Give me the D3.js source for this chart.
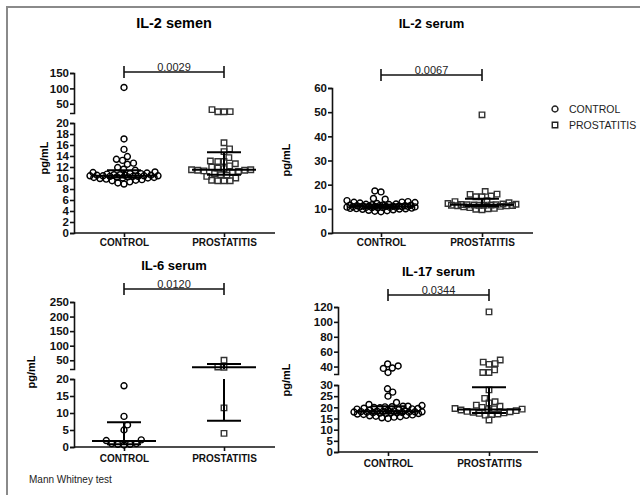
<!DOCTYPE html>
<html>
<head>
<meta charset="utf-8" />
<title>Cytokines</title>
<style>
    body { margin: 0; background: #fff; }
    svg text { font-family: Arial, "Liberation Sans", sans-serif; }
</style>
</head>
<body>
<div id="container"></div>
<script src="https://cdn.jsdelivr.net/npm/d3@7"></script>
<script>
    // categories / labels
    const groups = ['CONTROL', 'PROSTATITIS']
    const titles = ['IL-2 semen', 'IL-2 serum', 'IL-6 serum', 'IL-17 serum']
    const pValues = ['0.0029', '0.0067', '0.0120', '0.0344']

    // values (pg/mL)
    const il2SemenControl = [103, 17.1, 15.2, 13.9, 13.4, 13.2, 12.7, 12.5, 11.9, 11.6, 11.4, 11.1, 11.0, 10.9, 10.8,
        10.8, 10.7, 10.6, 10.6, 10.5, 10.5, 10.5, 10.4, 10.4, 10.4, 10.4, 10.3, 10.3, 10.3, 10.2, 10.2, 10.1, 10.1,
        10.0, 10.0, 9.9, 9.8, 9.7, 9.6, 9.5, 9.3, 9.1, 8.9]
    const il2SemenProstatitis = [31, 24, 24, 24.5, 16.4, 15.3, 14.8, 13.7, 13.1, 13.0, 13.0, 12.6, 12.2, 12.0, 11.8, 11.7,
        11.5, 11.5, 11.4, 11.4, 11.3, 11.2, 11.0, 10.8, 10.6, 10.5, 10.3, 10.0, 9.6, 9.5, 9.5, 9.5]
    const il2SerumControl = [17.4, 17.0, 14.3, 14.0, 13.4, 13.0, 12.8, 12.7, 12.6, 12.4, 12.2, 12.0, 11.9, 11.8, 11.7, 11.6,
        11.5, 11.5, 11.4, 11.3, 11.3, 11.2, 11.2, 11.1, 11.1, 11.0, 11.0, 11.0, 10.9, 10.9, 10.8, 10.8, 10.7, 10.7,
        10.6, 10.6, 10.5, 10.5, 10.4, 10.3, 10.2, 10.1, 10.0, 9.9, 9.8, 9.6, 9.4, 9.2, 9.0, 8.8]
    const il2SerumProstatitis = [48.9, 17.2, 16.1, 16.0, 15.3, 15.0, 15.0, 13.4, 13.0, 12.5, 12.2, 12.0, 11.9, 11.8, 11.7,
        11.7, 11.6, 11.6, 11.5, 11.5, 11.5, 11.4, 11.3, 11.2, 11.0, 10.8, 10.5, 10.2, 10.0, 9.8, 9.6]
    const il6SerumControl = [18.0, 9.0, 6.5, 5.0, 2.1, 1.9, 1.0, 0.8, 0.6, 0.8, 1.0]
    const il6SerumProstatitis = [50, 27, 26, 11.5, 4.0]
    const il17SerumControl = [43.5, 40.8, 38, 37.5, 32, 28.3, 26.8, 25, 22.2, 21.3, 20.8, 20.5, 20.5, 20.3, 20.2, 20.0,
        19.8, 19.6, 19.5, 19.3, 19.2, 19.0, 18.8, 18.7, 18.5, 18.4, 18.3, 18.2, 18.1, 18.0, 18.0, 17.9, 17.8, 17.8,
        17.7, 17.6, 17.5, 17.5, 17.4, 17.3, 17.2, 17.0, 16.8, 16.6, 16.4, 16.2, 16.0, 15.8, 15.6, 15.3, 15.0]
    const il17SerumProstatitis = [113.5, 48.8, 46, 44, 43, 35.5, 32, 32, 27.8, 24, 22.5, 22, 21, 20.5, 20, 19.5, 19.3,
        19.2, 19.0, 18.8, 18.5, 18.2, 18.0, 17.8, 17.5, 17.3, 17.0, 16.8, 16.5, 14.3]

    // [q1, median, q3] per group
    const il2SemenStats = [[10.1, 10.4, 11.4], [10.6, 11.5, 14.7]]
    const il2SerumStats = [[10.4, 11.0, 11.7], [11.2, 11.7, 14.2]]
    const il6SerumStats = [[0.8, 1.8, 7.3], [7.7, 26, 37]]
    const il17SerumStats = [[17.2, 18.3, 20.5], [17.5, 19.0, 29.0]]

    const panels = [
        { data: [il2SemenControl, il2SemenProstatitis], stats: il2SemenStats, ax: 74, x0: 124, x1: 224, xEnd: 275,
          brk: 20, lower: [0, 20, 233, 123], upper: [20, 150, 113, 73], lowTicks: d3.range(0, 21, 2), upTicks: [50, 100, 150],
          titleY: 28, titleSize: 14.5, brY: 72, labX: 48, labY: 158, catY: 246 },
        { data: [il2SerumControl, il2SerumProstatitis], stats: il2SerumStats, ax: 332, x0: 381, x1: 482, xEnd: 533,
          brk: null, lower: [0, 60, 233, 88], lowTicks: d3.range(0, 61, 10),
          titleY: 28, titleSize: 13, brY: 75, labX: 290, labY: 160, catY: 246 },
        { data: [il6SerumControl, il6SerumProstatitis], stats: il6SerumStats, ax: 74, x0: 124, x1: 224, xEnd: 275,
          brk: 20, lower: [0, 20, 447, 379], upper: [20, 250, 369, 302], lowTicks: d3.range(0, 21, 5), upTicks: [50, 100, 150, 200, 250],
          titleY: 270, titleSize: 13, brY: 289, labX: 35, labY: 372, catY: 462 },
        { data: [il17SerumControl, il17SerumProstatitis], stats: il17SerumStats, ax: 338, x0: 388, x1: 489, xEnd: 538,
          brk: 30, lower: [0, 30, 452, 385], upper: [30, 120, 374, 307], lowTicks: d3.range(0, 31, 5), upTicks: [40, 60, 80, 100, 120],
          titleY: 276, titleSize: 13, brY: 295, labX: 290, labY: 380, catY: 467 }
    ]

    const svg = d3.select('#container').append('svg').attr('width', 640).attr('height', 495)
    svg.append('rect').attr('x', 7).attr('y', 7).attr('width', 700).attr('height', 600)
        .attr('fill', 'none').attr('stroke', '#8a8a8a').attr('stroke-width', 2)

    // beeswarm with a width cap; when no free slot is left the point goes where it overlaps least
    function swarm(values, yOf, D, maxHalf) {
        const pts = values.map(v => ({ v, y: yOf(v), x: 0 })).sort((a, b) => b.y - a.y)
        const placed = []
        pts.forEach((p, n) => {
            const near = placed.filter(q => Math.abs(q.y - p.y) < D)
            const free = c => near.every(q => (q.x - c) ** 2 + (q.y - p.y) ** 2 >= D * D - 0.01)
            const cands = [0]
            near.forEach(q => {
                const dx = Math.sqrt(D * D - (q.y - p.y) ** 2)
                cands.push(q.x + dx, q.x - dx)
            })
            const sgn = n % 2 ? 1 : -1
            cands.sort((a, b) => Math.abs(a) - Math.abs(b) || (a - b) * sgn)
            let x = cands.find(c => Math.abs(c) <= maxHalf && free(c))
            if (x === undefined) {
                let best = -1
                for (let c = -maxHalf; c <= maxHalf; c += 1) {
                    const dmin = d3.min(near, q => (q.x - c) ** 2 + (q.y - p.y) ** 2)
                    if (dmin > best + 0.01 || (Math.abs(dmin - best) <= 0.01 && Math.abs(c) < Math.abs(x))) { best = dmin; x = c }
                }
            }
            p.x = x
            placed.push(p)
        })
        return pts
    }

    const symbol = [d3.symbol().type(d3.symbolCircle).size(28), d3.symbol().type(d3.symbolSquare).size(30)]

    panels.forEach((p, i) => {
        const g = svg.append('g')
        const lowS = d3.scaleLinear().domain([p.lower[0], p.lower[1]]).range([p.lower[2], p.lower[3]])
        const upS = p.upper ? d3.scaleLinear().domain([p.upper[0], p.upper[1]]).range([p.upper[2], p.upper[3]]) : null
        const y = v => (p.brk !== null && v > p.brk) ? upS(v) : lowS(v)
        const xS = d3.scalePoint().domain(groups).range([p.x0, p.x1])

        // axes
        g.append('g').attr('transform', `translate(${p.ax},0)`)
            .call(d3.axisLeft(lowS).tickValues(p.lowTicks).tickSize(4).tickSizeOuter(4))
        if (upS) {
            g.append('g').attr('transform', `translate(${p.ax},0)`)
                .call(d3.axisLeft(upS).tickValues(p.upTicks).tickSize(4).tickSizeOuter(4))
        }
        const xAx = g.append('g').attr('transform', `translate(0,${p.lower[2]})`)
            .call(d3.axisBottom(xS).tickSize(4).tickSizeOuter(0))
        xAx.select('.domain').attr('d', `M${p.ax},0H${p.xEnd}`)
        g.selectAll('.domain, .tick line').attr('stroke', '#111').attr('stroke-width', 1.6)
        g.selectAll('.tick text').attr('font-weight', 'bold').attr('font-size', 11.5).attr('fill', '#111').attr('x', -5)
        xAx.selectAll('.tick text').attr('font-size', 10).attr('x', 0).attr('y', 0).attr('dy', null)
            .attr('transform', `translate(0,${p.catY - p.lower[2]})`)

        // title, y label
        g.append('text').attr('x', (p.x0 + p.x1) / 2).attr('y', p.titleY).attr('text-anchor', 'middle')
            .attr('font-weight', 'bold').attr('font-size', p.titleSize).text(titles[i])
        g.append('text').attr('transform', `translate(${p.labX},${p.labY}) rotate(-90)`).attr('text-anchor', 'middle')
            .attr('font-weight', 'bold').attr('font-size', 11).text('pg/mL')

        // significance bracket
        const br = g.append('g').attr('stroke', '#111').attr('stroke-width', 1.6)
        br.append('line').attr('x1', xS(groups[0])).attr('x2', xS(groups[1])).attr('y1', p.brY).attr('y2', p.brY)
        groups.forEach(k => br.append('line').attr('x1', xS(k)).attr('x2', xS(k)).attr('y1', p.brY - 6).attr('y2', p.brY + 6))
        g.append('text').attr('x', (p.x0 + p.x1) / 2).attr('y', p.brY - 1.5).attr('text-anchor', 'middle')
            .attr('font-size', 11).attr('fill', '#222').text(pValues[i])

        // points
        p.data.forEach((vals, k) => {
            const cx = xS(groups[k])
            g.append('g').selectAll('path').data(swarm(vals, y, 6.2, 34)).join('path')
                .attr('d', symbol[k]).attr('transform', d => `translate(${cx + d.x},${d.y})`)
                .attr('fill', 'none').attr('stroke', k === 0 ? '#000' : '#333').attr('stroke-width', 1.4)

            // median + interquartile range
            const [q1, med, q3] = p.stats[k]
            const eb = g.append('g').attr('stroke', '#000').attr('stroke-width', 2)
            eb.append('line').attr('x1', cx - 32).attr('x2', cx + 32).attr('y1', y(med)).attr('y2', y(med))
            ;[q1, q3].forEach(q => eb.append('line').attr('x1', cx - 17).attr('x2', cx + 17).attr('y1', y(q)).attr('y2', y(q)))
            if (p.brk !== null && q3 > p.brk && q1 < p.brk) {
                eb.append('line').attr('x1', cx).attr('x2', cx).attr('y1', y(q1)).attr('y2', lowS(p.brk))
                eb.append('line').attr('x1', cx).attr('x2', cx).attr('y1', upS(p.brk)).attr('y2', y(q3))
            } else {
                eb.append('line').attr('x1', cx).attr('x2', cx).attr('y1', y(q1)).attr('y2', y(q3))
            }
        })
    })

    // legend
    const leg = svg.append('g').attr('transform', 'translate(555,109)')
    groups.forEach((k, i) => {
        leg.append('path').attr('d', symbol[i]).attr('transform', `translate(0,${i * 16})`)
            .attr('fill', 'none').attr('stroke', '#222').attr('stroke-width', 1.4)
        leg.append('text').attr('x', 14).attr('y', i * 16 + 4).attr('font-size', 10.5).attr('fill', '#222').text(k)
    })

    svg.append('text').attr('x', 29).attr('y', 483).attr('font-size', 10).attr('fill', '#222').text('Mann Whitney test')
</script>
</body>
</html>
